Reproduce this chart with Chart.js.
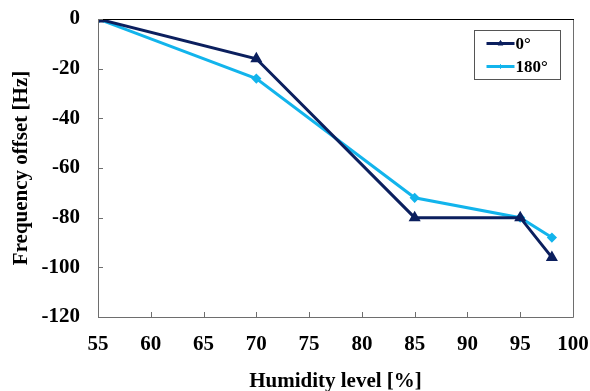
<!DOCTYPE html>
<html>
<head>
<meta charset="utf-8">
<script src="https://cdn.jsdelivr.net/npm/chart.js@4/dist/chart.umd.min.js"></script>
<style>
  html, body { margin: 0; padding: 0; background: #fff; }
  #wrap { width: 590px; height: 391px; }
</style>
</head>
<body>
<div id="wrap"><canvas id="c" width="590" height="391"></canvas></div>
<script>
// humidity levels [%]
const humidity = [55, 70, 85, 95, 98];
// frequency offset [Hz]
const offset0 = [0, -16, -80, -80, -96];
const offset180 = [0, -24, -72, -80, -88];
const seriesNames = ["0°", "180°"];

const FONT = "'Liberation Serif', 'Times New Roman', serif";
const navy = "#0b1f5e";
const sky = "#12b4ec";

function pts(ys) {
  return humidity.map((x, i) => ({ x: x, y: ys[i] }));
}

// inside tick marks, plot border, legend box
const frame = {
  id: "frame",
  afterDatasetsDraw(chart) {
    const { ctx, chartArea: a, scales } = chart;
    ctx.save();
    ctx.lineWidth = 1;
    ctx.strokeStyle = "#6e6e6e";
    ctx.beginPath();
    ctx.moveTo(a.left + 0.5, a.top);
    ctx.lineTo(a.left + 0.5, a.bottom + 0.5);
    ctx.lineTo(a.right + 0.5, a.bottom + 0.5);
    ctx.lineTo(a.right + 0.5, a.top);
    ctx.stroke();
    ctx.strokeStyle = "#000";
    ctx.beginPath();
    ctx.moveTo(a.left, a.top + 0.5);
    ctx.lineTo(a.right + 1, a.top + 0.5);
    ctx.stroke();
    ctx.strokeStyle = "#6e6e6e";
    ctx.beginPath();
    scales.x.ticks.forEach((t) => {
      const px = Math.round(scales.x.getPixelForValue(t.value)) + 0.5;
      ctx.moveTo(px, a.bottom);
      ctx.lineTo(px, a.bottom - 5);
    });
    scales.y.ticks.forEach((t) => {
      const py = Math.round(scales.y.getPixelForValue(t.value)) + 0.5;
      ctx.moveTo(a.left, py);
      ctx.lineTo(a.left + 5, py);
    });
    ctx.stroke();
    ctx.restore();
  },
  afterDraw(chart) {
    const { ctx } = chart;
    const bx = 474.5, by = 30.5, bw = 86, bh = 49;
    ctx.save();
    ctx.fillStyle = "#fff";
    ctx.fillRect(bx, by, bw, bh);
    ctx.strokeStyle = "#555";
    ctx.lineWidth = 1;
    ctx.strokeRect(bx, by, bw, bh);
    chart.data.datasets.forEach((ds, i) => {
      const y = by + 13 + i * 23;
      ctx.strokeStyle = ds.borderColor;
      ctx.fillStyle = ds.borderColor;
      ctx.lineWidth = 3;
      ctx.beginPath();
      ctx.moveTo(bx + 12, y);
      ctx.lineTo(bx + 40, y);
      ctx.stroke();
      ctx.lineWidth = 1;
      Chart.helpers.drawPoint(ctx, {
        pointStyle: ds.pointStyle,
        radius: ds.pointRadius - 1,
        borderWidth: 1
      }, bx + 26, y);
      ctx.fillStyle = "#000";
      ctx.font = "bold 17px " + FONT;
      ctx.textBaseline = "middle";
      ctx.fillText(ds.label, bx + 41, y + 1);
    });
    ctx.restore();
  }
};

new Chart(document.getElementById("c"), {
  type: "line",
  data: {
    datasets: [
      {
        label: seriesNames[0],
        data: pts(offset0),
        borderColor: navy,
        backgroundColor: navy,
        pointBackgroundColor: navy,
        pointBorderColor: navy,
        borderWidth: 3,
        pointStyle: "triangle",
        pointRadius: 4,
        tension: 0
      },
      {
        label: seriesNames[1],
        data: pts(offset180),
        borderColor: sky,
        backgroundColor: sky,
        pointBackgroundColor: sky,
        pointBorderColor: sky,
        borderWidth: 3,
        pointStyle: "rectRot",
        pointRadius: 3,
        tension: 0
      }
    ]
  },
  options: {
    responsive: false,
    animation: false,
    layout: { padding: { top: 19, right: 17, left: 9, bottom: 0 } },
    plugins: { legend: { display: false }, tooltip: { enabled: false } },
    scales: {
      x: {
        type: "linear",
        min: 55,
        max: 100,
        ticks: { stepSize: 5, color: "#000", font: { family: FONT, size: 21, weight: "bold" }, padding: 7, maxRotation: 0 },
        grid: { display: false },
        border: { display: false },
        title: { display: true, text: "Humidity level [%]", color: "#000", font: { family: FONT, size: 21, weight: "bold" }, padding: { top: 15, bottom: -3 } },
        afterFit(s) { s.height = 74; s.paddingLeft = 0; s.paddingRight = 0; }
      },
      y: {
        min: -120,
        max: 0,
        ticks: { stepSize: 20, color: "#000", font: { family: FONT, size: 21, weight: "bold" }, padding: 10 },
        grid: { display: false },
        border: { display: false },
        title: { display: true, text: "Frequency offset [Hz]", color: "#000", font: { family: FONT, size: 21, weight: "bold" }, padding: { top: 0, bottom: 0 } },
        afterFit(s) { s.width = 89; s.paddingTop = 0; s.paddingBottom = 0; }
      }
    }
  },
  plugins: [frame]
});
</script>
</body>
</html>
